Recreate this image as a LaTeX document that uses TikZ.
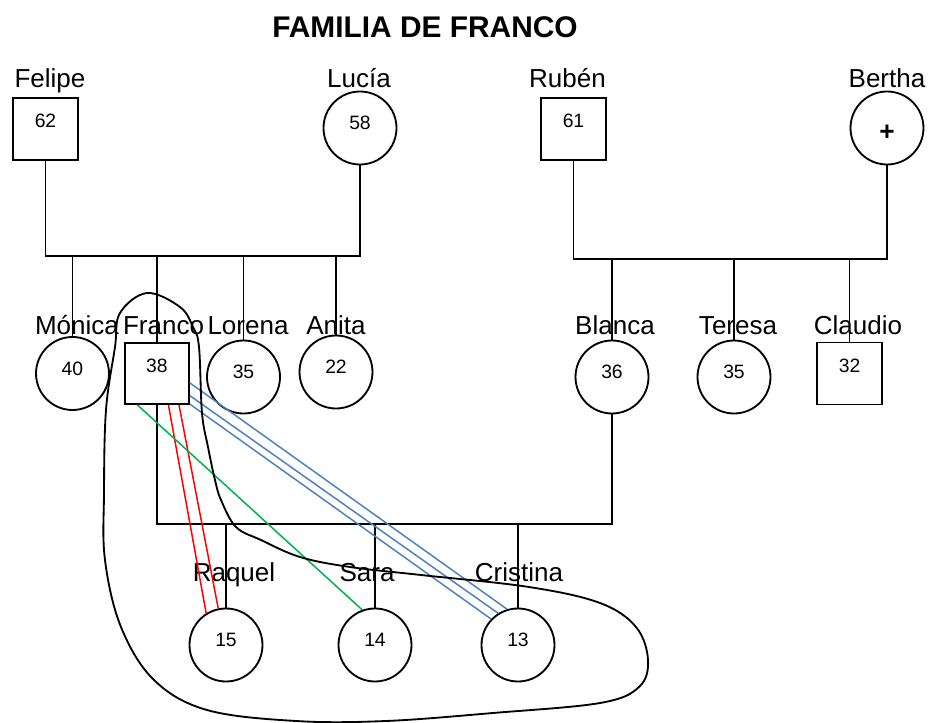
\documentclass[tikz,border=0pt]{standalone}
\usepackage{fontspec}
\setmainfont{Liberation Sans}
\definecolor{lazored}{HTML}{FF0000}
\definecolor{lazogreen}{HTML}{00B050}
\definecolor{lazoblue}{HTML}{4F81BD}
\begin{document}
\begin{tikzpicture}[
  line width=1.05pt,
  hombre/.style={draw,rectangle,minimum width=1.3cm,minimum height=1.24cm,inner sep=0pt,
    font=\fontsize{11}{13}\selectfont,text height=0.28cm,text depth=0.34cm},
  mujer/.style={draw,circle,minimum size=1.46cm,inner sep=0pt,
    font=\fontsize{11}{13}\selectfont,text height=0.28cm,text depth=0.22cm},
  nombre/.style={anchor=base,inner sep=0pt,font=\fontsize{14.8}{17}\selectfont},
  lazo/.style={line width=0.85pt}]

  \useasboundingbox (0,0) rectangle (18.72,-14.46);

  % ---- Title ----------------------------------------------
  \node[font=\bfseries\fontsize{17}{20}\selectfont] (titulo) at (8.5,-0.54) {FAMILIA DE FRANCO};

  % ---- Grandparents ---------------------------------------
  \node[hombre] (felipe) at (0.91,-2.58) {62};
  \node[nombre] (nfelipe) at (1.0,-1.76) {Felipe};
  \node[mujer] (lucia) at (7.2,-2.56) {58};
  \node[nombre] (nlucia) at (7.18,-1.74) {Lucía};
  \node[hombre] (ruben) at (11.47,-2.58) {61};
  \node[nombre] (nruben) at (11.35,-1.74) {Rubén};
  \node[mujer,font=\bfseries\fontsize{15}{17}\selectfont,text height=0.5cm,text depth=0.02cm]
    (bertha) at (17.74,-2.56) {+};
  \node[nombre] (nbertha) at (17.74,-1.74) {Bertha};

  % ---- Parents' generation --------------------------------
  \node[mujer] (monica) at (1.45,-7.47) {40};
  \node[nombre] (nmonica) at (1.54,-6.68) {Mónica};
  \node[hombre,minimum width=1.28cm,minimum height=1.22cm] (franco) at (3.14,-7.47) {38};
  \node[nombre] (nfranco) at (3.27,-6.68) {Franco};
  \node[mujer] (lorena) at (4.87,-7.54) {35};
  \node[nombre] (nlorena) at (4.96,-6.68) {Lorena};
  \node[mujer] (anita) at (6.72,-7.44) {22};
  \node[nombre] (nanita) at (6.72,-6.68) {Anita};
  \node[mujer] (blanca) at (12.24,-7.54) {36};
  \node[nombre] (nblanca) at (12.3,-6.68) {Blanca};
  \node[mujer] (teresa) at (14.68,-7.54) {35};
  \node[nombre] (nteresa) at (14.76,-6.68) {Teresa};
  \node[hombre] (claudio) at (16.99,-7.47) {32};
  \node[nombre] (nclaudio) at (17.16,-6.68) {Claudio};

  % ---- Children -------------------------------------------
  \node[mujer] (raquel) at (4.52,-12.9) {15};
  \node[nombre] (nraquel) at (4.68,-11.62) {Raquel};
  \node[mujer] (sara) at (7.5,-12.9) {14};
  \node[nombre] (nsara) at (7.34,-11.62) {Sara};
  \node[mujer] (cristina) at (10.36,-12.9) {13};
  \node[nombre] (ncristina) at (10.38,-11.62) {Cristina};

  % ---- Family lines ---------------------------------------
  \coordinate (barraL) at (0,-5.12);
  \coordinate (barraR) at (0,-5.18);
  \coordinate (barraH) at (0,-10.48);
  \draw (felipe.south) -- (felipe.south |- barraL) -- (lucia.south |- barraL) -- (lucia.south);
  \foreach \h in {monica,franco,lorena,anita}
    \draw (\h.north) -- (\h.north |- barraL);
  \draw (ruben.south) -- (ruben.south |- barraR) -- (bertha.south |- barraR) -- (bertha.south);
  \foreach \h in {blanca,teresa,claudio}
    \draw (\h.north) -- (\h.north |- barraR);
  \draw (franco.south) -- (franco.south |- barraH) -- (blanca.south |- barraH) -- (blanca.south);
  \foreach \h in {raquel,sara,cristina}
    \draw (\h.north) -- (\h.north |- barraH);

  % ---- Relations ------------------------------------------
  \draw[lazo,lazored] (franco.-70) -- (raquel.122);
  \draw[lazo,lazored] (franco.-55) -- (raquel.102);
  \draw[lazo,lazogreen] (franco.-122) -- (sara.110);
  \draw[lazo,lazoblue] (franco.-16) -- (cristina.107);
  \draw[lazo,lazoblue] (franco.-34) -- (cristina.122);
  \draw[lazo,lazoblue] (franco.-43) -- (cristina.136);

  % ---- Household boundary ---------------------------------
  \draw plot[smooth cycle,tension=0.6] coordinates {
    (2.94,-5.86) (3.6,-6.14) (3.86,-6.54) (3.98,-6.94) (4.04,-8.26) (4.16,-8.94)
    (4.3,-9.6) (4.42,-10.0) (4.72,-10.54) (5.22,-10.8) (6.0,-11.14) (7.0,-11.34)
    (8.42,-11.5) (10.58,-11.74) (12.0,-12.06) (12.72,-12.54) (12.96,-13.2)
    (12.78,-13.74) (12.0,-14.06) (9.86,-14.26) (7.72,-14.42) (5.92,-14.42)
    (4.14,-14.2) (3.08,-13.6) (2.42,-12.54) (2.1,-11.2) (2.08,-9.86) (2.12,-8.2)
    (2.3,-6.94) (2.4,-6.26)};

\end{tikzpicture}
\end{document}
